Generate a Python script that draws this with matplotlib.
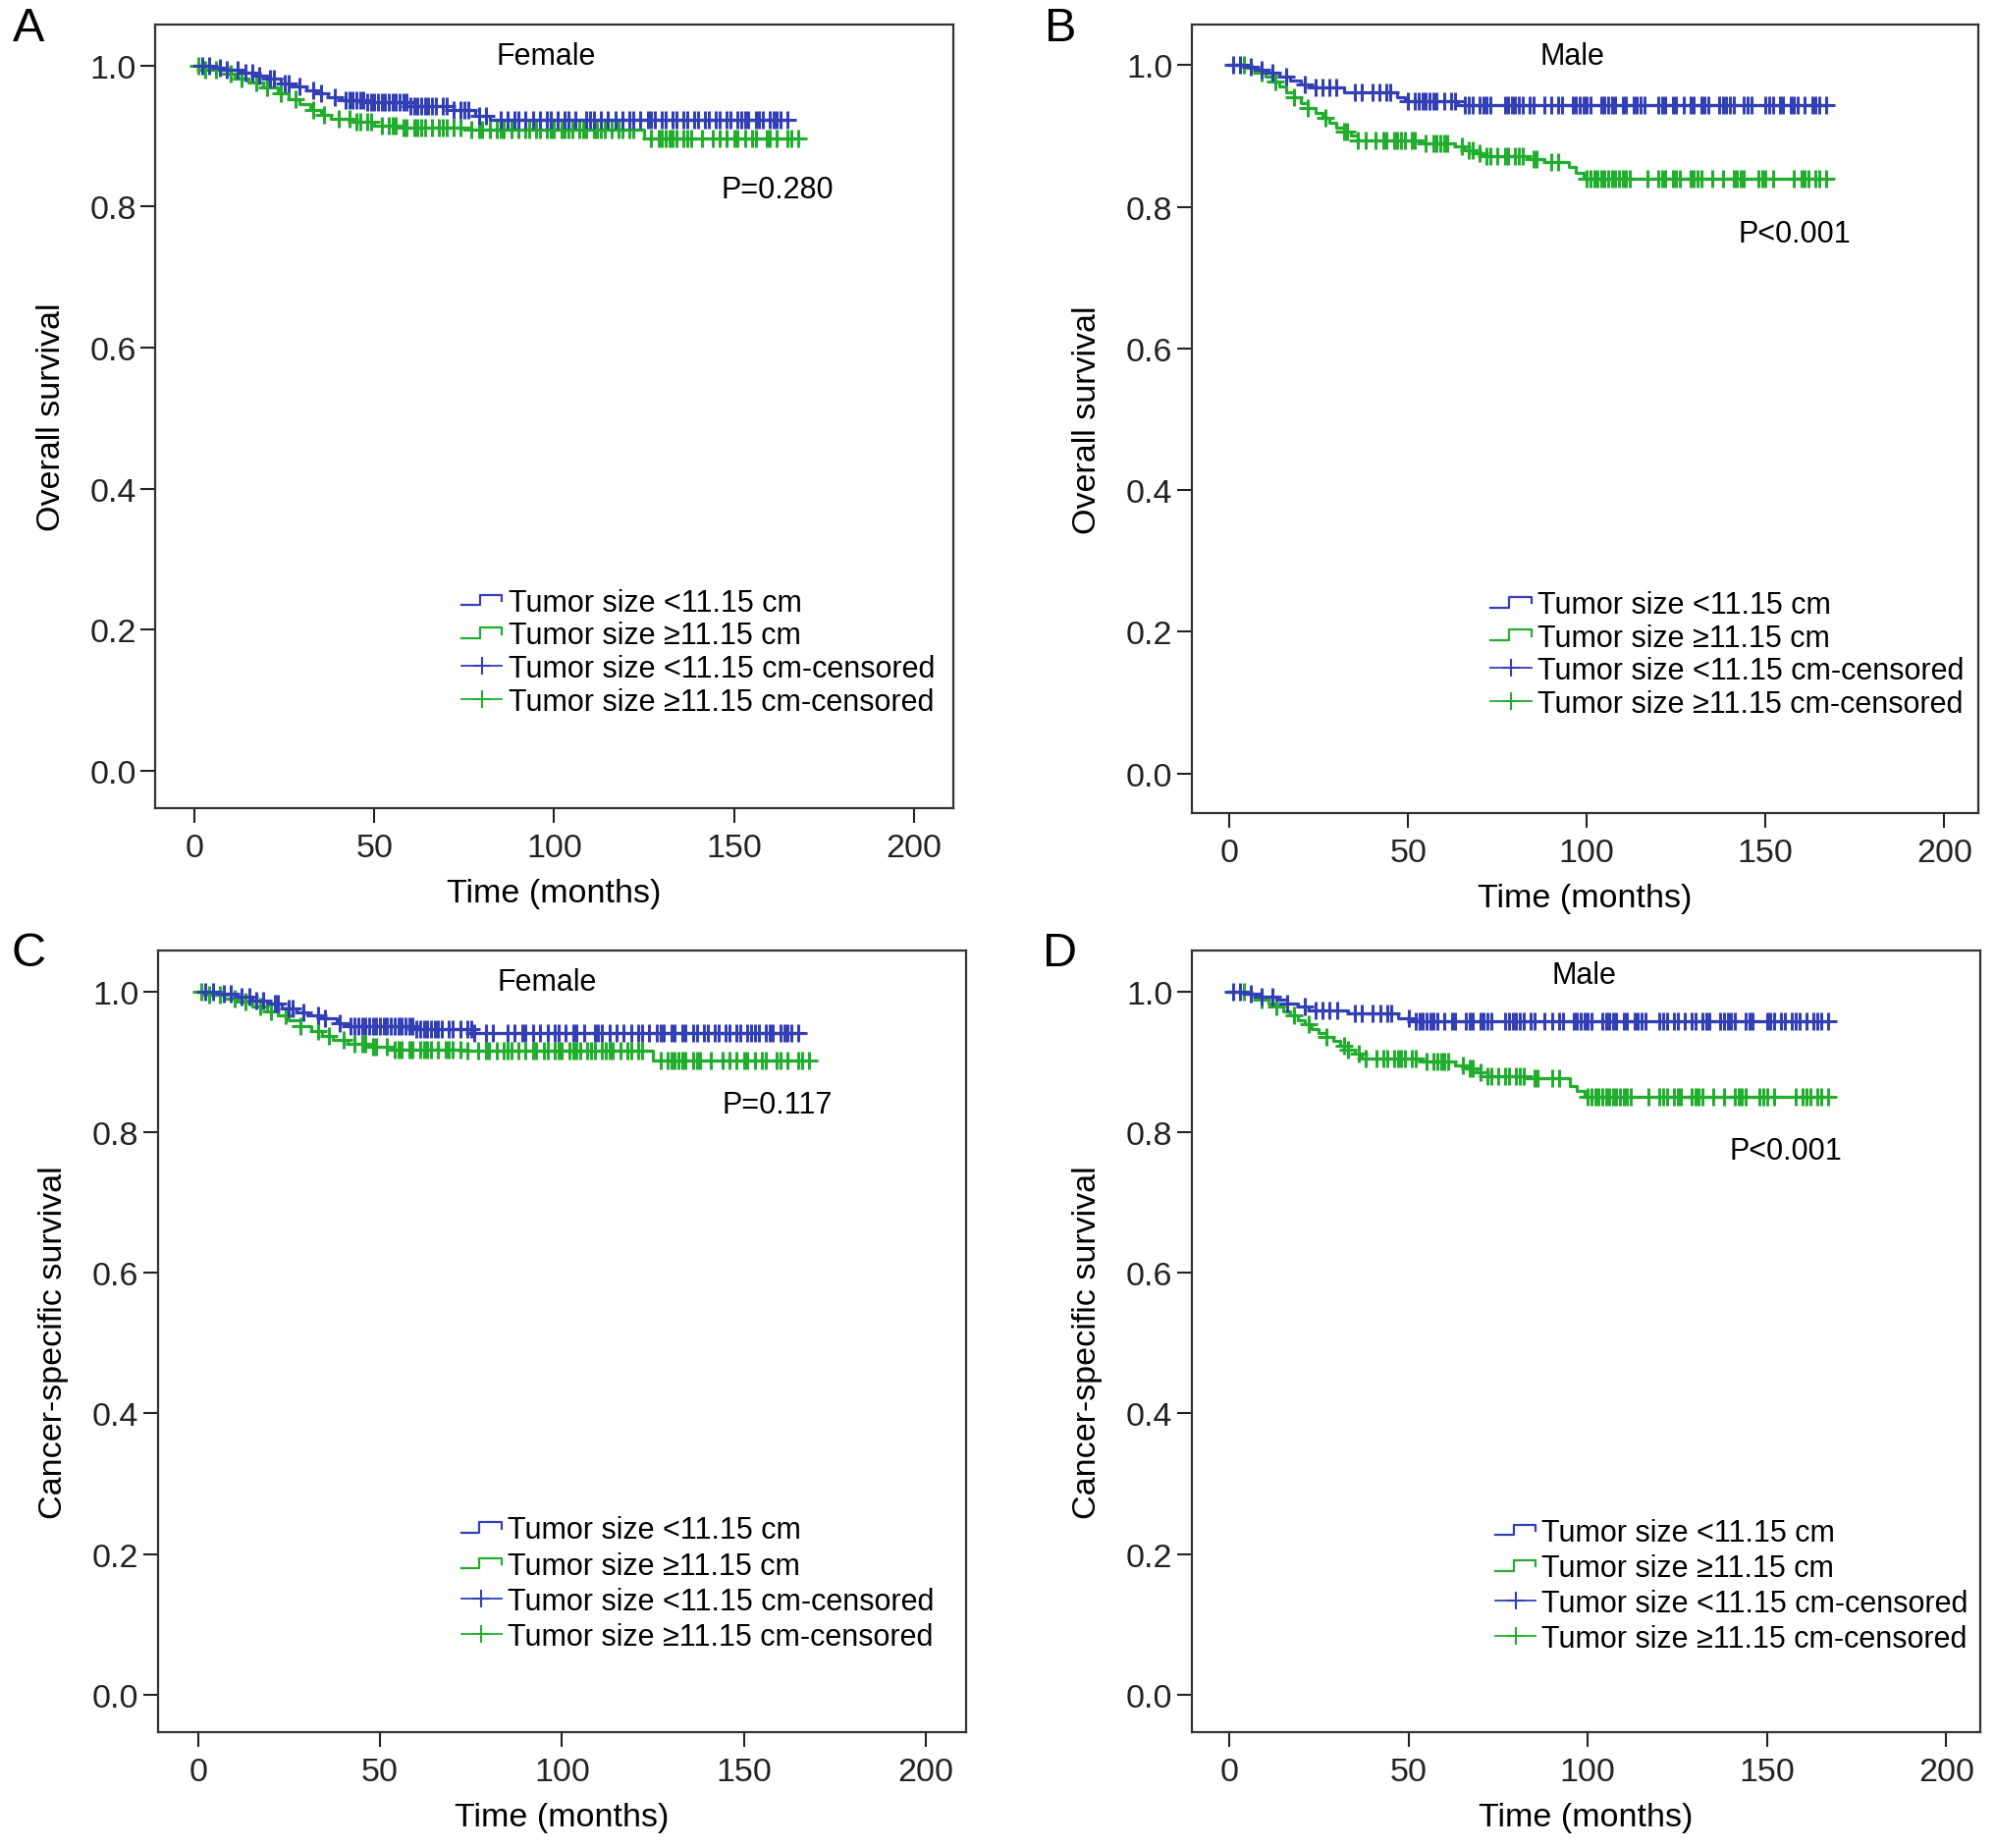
import numpy as np
import matplotlib
matplotlib.use('Agg')
import matplotlib.pyplot as plt
from matplotlib.lines import Line2D
from matplotlib.legend_handler import HandlerBase

plt.rcParams['font.family'] = ['Liberation Sans', 'DejaVu Sans']

BLUE = '#3340b5'
GREEN = '#22ad2e'

# ---- step curves (time in months, survival after each event) ----
# A: overall survival, female
a_small_t = [0, 5, 9, 13, 17, 20, 24, 27, 31, 34, 37, 41, 48, 60, 72, 78, 82, 165]
a_small_s = [1.0, 0.997, 0.994, 0.99, 0.985, 0.981, 0.975, 0.97, 0.965, 0.96, 0.955, 0.951, 0.948, 0.943, 0.937, 0.929, 0.923, 0.923]
a_large_t = [0, 3, 7, 11, 15, 19, 23, 26, 29, 32, 35, 38, 44, 50, 58, 76, 125, 168]
a_large_s = [1.0, 0.994, 0.988, 0.982, 0.976, 0.969, 0.96, 0.952, 0.945, 0.937, 0.93, 0.925, 0.92, 0.915, 0.912, 0.909, 0.896, 0.896]

# B: overall survival, male
b_small_t = [0, 5, 8, 11, 14, 17, 20, 23, 32, 47, 49, 64, 167]
b_small_s = [1.0, 0.997, 0.993, 0.989, 0.984, 0.978, 0.973, 0.969, 0.962, 0.955, 0.949, 0.943, 0.943]
b_large_t = [0, 5, 8, 10, 12, 14, 16, 18, 20, 22, 24, 26, 28, 30, 32, 34, 36, 54, 63, 66, 69, 72, 84, 88, 95, 97, 99, 167]
b_large_s = [1.0, 0.996, 0.99, 0.984, 0.977, 0.97, 0.962, 0.954, 0.946, 0.939, 0.932, 0.925, 0.918, 0.912,
             0.906, 0.9, 0.894, 0.89, 0.885, 0.88, 0.876, 0.871, 0.867, 0.863, 0.856, 0.848, 0.84, 0.84]

# C: cancer-specific survival, female
c_small_t = [0, 6, 11, 15, 19, 23, 27, 30, 34, 38, 41, 60, 76, 165]
c_small_s = [1.0, 0.997, 0.992, 0.987, 0.982, 0.976, 0.97, 0.966, 0.961, 0.955, 0.951, 0.947, 0.941, 0.941]
c_large_t = [0, 3, 7, 11, 15, 19, 22, 25, 28, 31, 34, 37, 41, 47, 54, 74, 125, 168]
c_large_s = [1.0, 0.995, 0.99, 0.985, 0.979, 0.972, 0.966, 0.959, 0.951, 0.944, 0.937, 0.931, 0.926, 0.921, 0.917, 0.915, 0.902, 0.902]

# D: cancer-specific survival, male
d_small_t = [0, 5, 9, 13, 16, 19, 22, 33, 47, 51, 167]
d_small_s = [1.0, 0.997, 0.993, 0.988, 0.983, 0.978, 0.973, 0.968, 0.962, 0.957, 0.957]
d_large_t = [0, 5, 7, 9, 11, 13, 15, 17, 19, 21, 23, 25, 27, 29, 31, 33, 35, 37, 54, 63, 66, 69, 72, 83, 95, 97, 99, 167]
d_large_s = [1.0, 0.997, 0.993, 0.988, 0.983, 0.978, 0.972, 0.966, 0.959, 0.953, 0.947, 0.941, 0.935, 0.929,
             0.923, 0.917, 0.911, 0.905, 0.9, 0.895, 0.89, 0.885, 0.88, 0.876, 0.866, 0.858, 0.85, 0.85]

# ---- censoring times ----
female_small_cens = [2, 4, 7, 9, 12, 14, 16, 18, 21, 22, 25, 26, 29, 33, 35, 39, 42, 43, 44, 45, 46, 47, 48, 49,
                     50, 51, 52, 53, 54, 55, 56, 57, 58, 59, 60, 61, 62, 63, 64, 65, 66, 67, 69, 70, 72, 74, 75,
                     76, 79, 81, 85, 87, 89, 90, 92, 94, 96, 98, 99, 101, 103, 104, 106, 109, 110, 111, 113,
                     115, 117, 119, 121, 122, 124, 126, 127, 128, 130, 131, 133, 134, 136, 137, 139, 140, 142,
                     143, 145, 146, 148, 149, 151, 152, 153, 154, 156, 157, 158, 160, 161, 162, 163, 165]
female_large_cens = [1, 3, 6, 10, 13, 17, 20, 24, 28, 33, 36, 40, 43, 45, 46, 48, 49, 52, 54, 55, 56, 58, 59, 61,
                     62, 63, 64, 66, 68, 69, 70, 72, 74, 77, 79, 80, 82, 84, 85, 86, 88, 90, 92, 93, 95, 96, 98,
                     99, 100, 102, 103, 104, 105, 107, 108, 109, 111, 112, 113, 114, 116, 118, 119, 121, 122,
                     127, 129, 130, 131, 132, 133, 134, 136, 137, 138, 141, 144, 146, 148, 150, 151, 153, 155,
                     156, 159, 160, 162, 165, 166, 168]
male_small_cens = [1, 3, 6, 9, 12, 16, 21, 24, 26, 28, 30, 35, 37, 40, 42, 44, 45, 50, 52, 53, 54, 55, 56, 57,
                   58, 60, 62, 63, 66, 67, 68, 70, 71, 72, 73, 77, 78, 79, 80, 81, 82, 84, 85, 88, 90, 92, 93,
                   96, 97, 98, 99, 100, 101, 104, 105, 106, 107, 108, 110, 111, 113, 114, 115, 116, 120, 121,
                   122, 124, 125, 127, 129, 130, 132, 133, 134, 137, 138, 139, 140, 141, 144, 145, 146, 150,
                   151, 152, 154, 155, 157, 158, 159, 161, 163, 164, 165, 167]
male_large_cens = [4, 9, 13, 18, 22, 27, 32, 33, 36, 38, 41, 43, 44, 46, 47, 48, 49, 51, 52, 55, 57, 58, 59, 60,
                   61, 65, 67, 68, 70, 72, 73, 75, 77, 78, 80, 81, 82, 85, 86, 90, 92, 100, 101, 102, 103, 104,
                   105, 106, 107, 108, 109, 110, 111, 112, 117, 120, 121, 122, 124, 125, 126, 129, 130, 131,
                   132, 135, 138, 141, 142, 143, 144, 148, 149, 150, 152, 158, 160, 161, 162, 164, 165, 167]

labels = ['Tumor size <11.15 cm', 'Tumor size \u226511.15 cm',
          'Tumor size <11.15 cm-censored', 'Tumor size \u226511.15 cm-censored']


class StepHandler(HandlerBase):
    # little KM-style step icon for the legend
    def create_artists(self, legend, orig_handle, xdescent, ydescent, width, height, fontsize, trans):
        x0, y0 = -xdescent, -ydescent
        xs = [x0, x0 + 0.45 * width, x0 + 0.45 * width, x0 + width, x0 + width]
        ys = [y0 + 0.25 * height, y0 + 0.25 * height, y0 + 0.75 * height, y0 + 0.75 * height, y0 + 0.45 * height]
        ln = Line2D(xs, ys, color=orig_handle.get_color(), lw=1.6, transform=trans)
        return [ln]


def surv_at(times, surv, t):
    idx = np.searchsorted(times, t, side='right') - 1
    return np.asarray(surv)[idx]


def draw_panel(ax, ts, ss, tl, sl, cs, cl, ylab, sex, ptxt, ppos, legx, legy, legsp, xlim, ylim, tpos):
    ax.step(tl, sl, where='post', color=GREEN, lw=2.3)
    ax.plot(cl, surv_at(tl, sl, cl), ls='none', marker='+', color=GREEN, ms=13, mew=2.2)
    ax.step(ts, ss, where='post', color=BLUE, lw=2.3)
    ax.plot(cs, surv_at(ts, ss, cs), ls='none', marker='+', color=BLUE, ms=13, mew=2.2)

    ax.set_xlim(*xlim)
    ax.set_ylim(*ylim)
    ax.set_xticks([0, 50, 100, 150, 200])
    ax.set_yticks([0.0, 0.2, 0.4, 0.6, 0.8, 1.0])
    ax.set_yticklabels(['0.0', '0.2', '0.4', '0.6', '0.8', '1.0'])
    ax.tick_params(length=11, width=1.5, labelsize=24.5, pad=3, colors='#222222')
    ax.tick_params(axis='x', pad=7)
    for sp in ax.spines.values():
        sp.set_linewidth(1.6)
        sp.set_color('#333333')
    ax.set_xlabel('Time (months)', fontsize=24.5, labelpad=11)
    ax.set_ylabel(ylab, fontsize=24.5, labelpad=17)

    ax.text(tpos[0], tpos[1], sex, transform=ax.transAxes, ha='center', va='center', fontsize=22)
    ax.text(ppos[0], ppos[1], ptxt, transform=ax.transAxes, ha='center', va='center', fontsize=22)

    h = [Line2D([], [], color=BLUE), Line2D([], [], color=GREEN),
         Line2D([], [], color=BLUE, marker='+', ms=13, mew=1.5, lw=1.3),
         Line2D([], [], color=GREEN, marker='+', ms=13, mew=1.5, lw=1.3)]
    ax.legend(h, labels, loc='upper left', bbox_to_anchor=(legx, legy), frameon=False, fontsize=22,
              handlelength=1.35, handletextpad=0.2, labelspacing=legsp, borderpad=0, borderaxespad=0,
              handler_map={h[0]: StepHandler(), h[1]: StepHandler()})


fig = plt.figure(figsize=(20.32, 18.83), dpi=100)
axA = fig.add_axes([0.0778, 0.5624, 0.400, 0.4238])
axB = fig.add_axes([0.5974, 0.5597, 0.3942, 0.4264])
axC = fig.add_axes([0.0792, 0.0627, 0.405, 0.4227])
axD = fig.add_axes([0.5974, 0.0627, 0.3952, 0.4227])

draw_panel(axA, a_small_t, a_small_s, a_large_t, a_large_s, female_small_cens, female_large_cens,
           'Overall survival', 'Female', 'P=0.280', (0.78, 0.789), 0.384, 0.281, 0.12,
           (-11, 211), (-0.053, 1.058), (0.49, 0.96))
draw_panel(axB, b_small_t, b_small_s, b_large_t, b_large_s, male_small_cens, male_large_cens,
           'Overall survival', 'Male', 'P<0.001', (0.767, 0.735), 0.38, 0.283, 0.12,
           (-10.5, 209.5), (-0.056, 1.057), (0.484, 0.96))
draw_panel(axC, c_small_t, c_small_s, c_large_t, c_large_s, female_small_cens, female_large_cens,
           'Cancer-specific survival', 'Female', 'P=0.117', (0.767, 0.803), 0.375, 0.277, 0.2,
           (-11, 211), (-0.053, 1.058), (0.482, 0.96))
draw_panel(axD, d_small_t, d_small_s, d_large_t, d_large_s, male_small_cens, male_large_cens,
           'Cancer-specific survival', 'Male', 'P<0.001', (0.753, 0.744), 0.385, 0.274, 0.2,
           (-10.5, 209.5), (-0.053, 1.058), (0.498, 0.968))

for letter, (x, y) in zip('ABCD', [(29, 30), (1080, 30), (29, 972), (1080, 972)]):
    fig.text(x / 2032, 1 - y / 1883, letter, fontsize=35, ha='center', va='center')

fig.savefig('out.png', dpi=100, facecolor='white')
